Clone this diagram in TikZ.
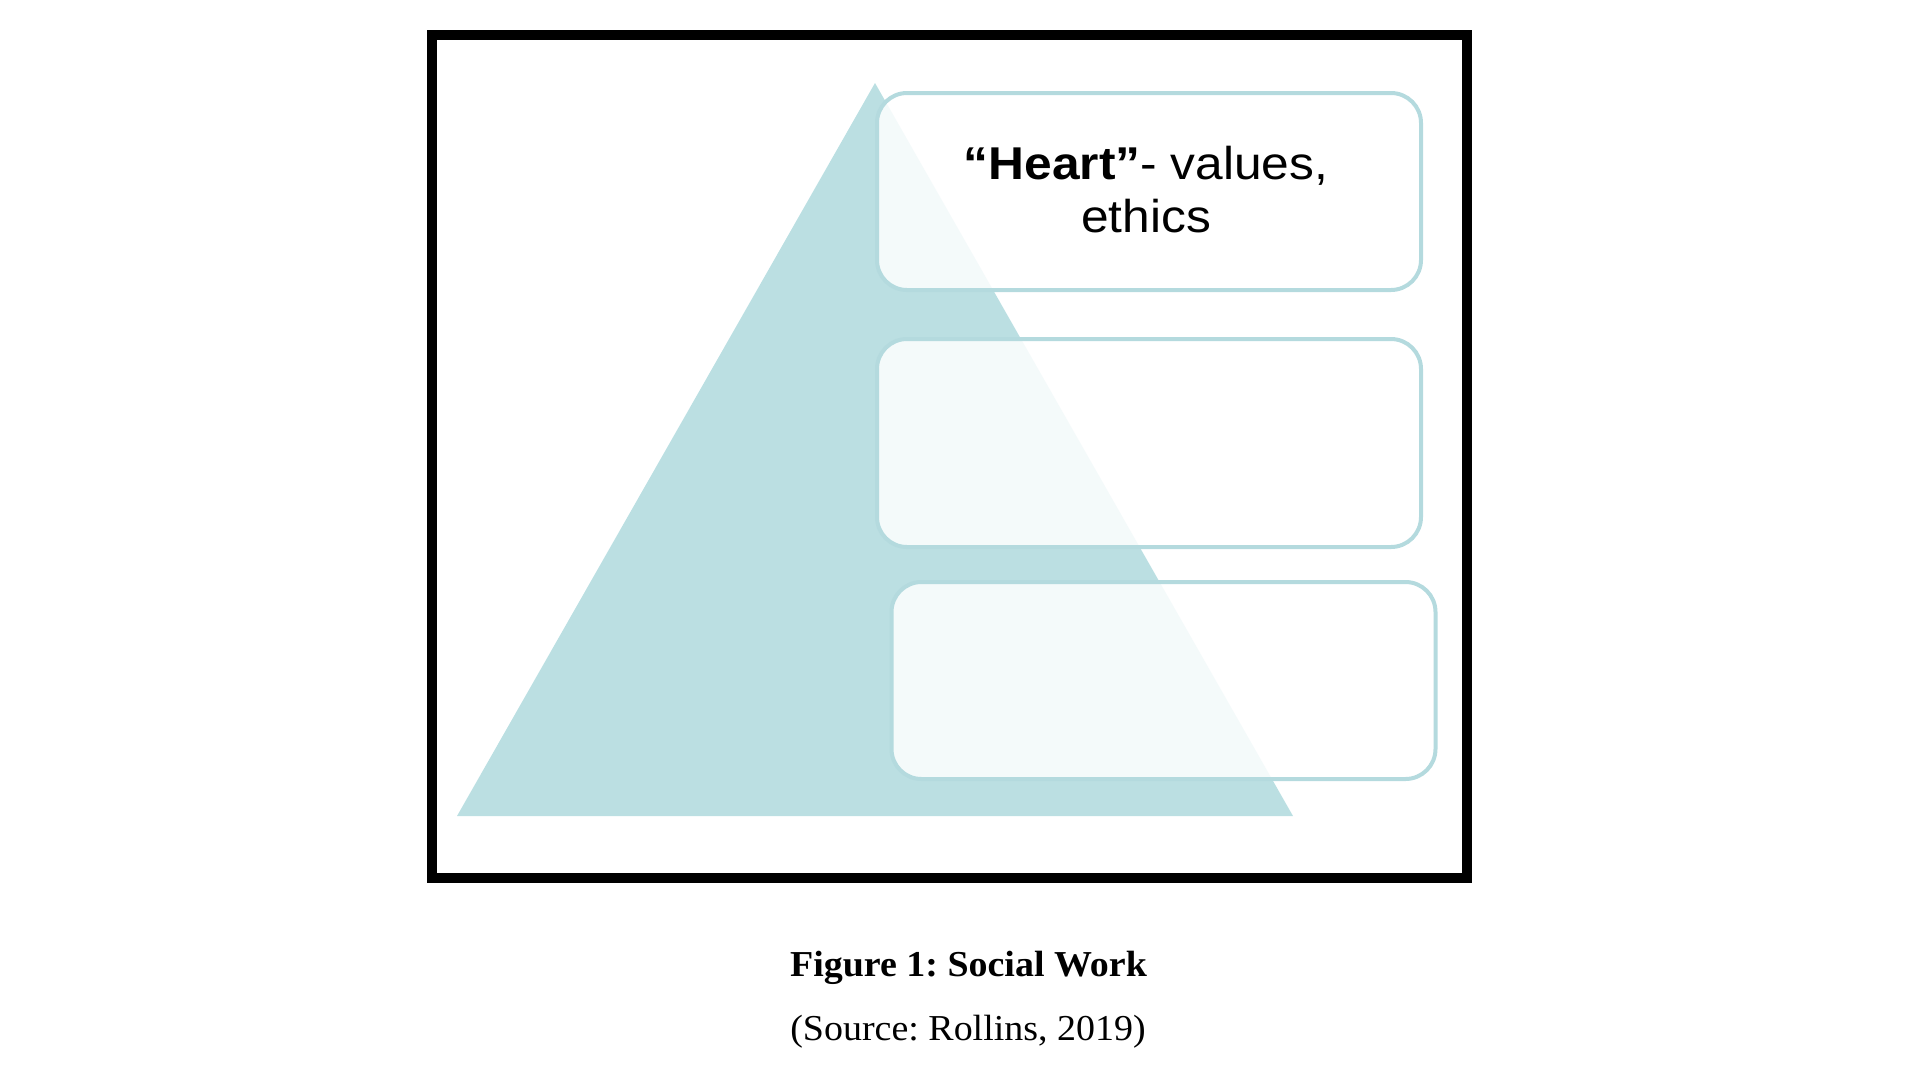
\documentclass[tikz,border=0pt]{standalone}
\usepackage{fontspec}
\setmainfont[FakeStretch=1.04]{Liberation Serif}
\newfontfamily\arialfont[FakeStretch=1.08]{Liberation Sans}
\usetikzlibrary{positioning, calc}
\definecolor{pyramidblue}{RGB}{187,223,226}
\definecolor{edgeblue}{RGB}{180,218,222}
\frenchspacing

\begin{document}
\begin{tikzpicture}[x=1pt, y=-1pt,
  levelbox/.style={draw=edgeblue, line width=4pt, fill=white, fill opacity=0.85,
    rounded corners=30pt, inner sep=0pt, minimum width=544pt}]
\useasboundingbox (0,0) rectangle (1920,1080);
% Outer frame
\draw[line width=10pt] (431.5,34.5) rectangle (1466.5,878);

% Pyramid
\fill[pyramidblue] (875,83) -- (457,816) -- (1293,816) -- cycle;

% Level boxes
\node[levelbox, minimum height=197pt] (heartbox) at (1149,191.5) {};
\node[levelbox, minimum height=208pt] (middlebox) at (1149,443) {};
\node[levelbox, minimum height=197pt] (bottombox) at (1163.5,680.5) {};
\node[align=center, font=\arialfont\fontsize{46}{53}\selectfont] (hearttext)
    at (1146,190) {\textbf{“Heart”}- values,\\ethics};

% Caption
\node[anchor=base, font=\bfseries\fontsize{36.5}{44}\selectfont] (caption)
    at (968.5,976) {Figure 1: Social Work};
\node[anchor=base, font=\fontsize{36.5}{44}\selectfont] (source)
    at (968,1040) {(Source: Rollins, 2019)};
\end{tikzpicture}
\end{document}
